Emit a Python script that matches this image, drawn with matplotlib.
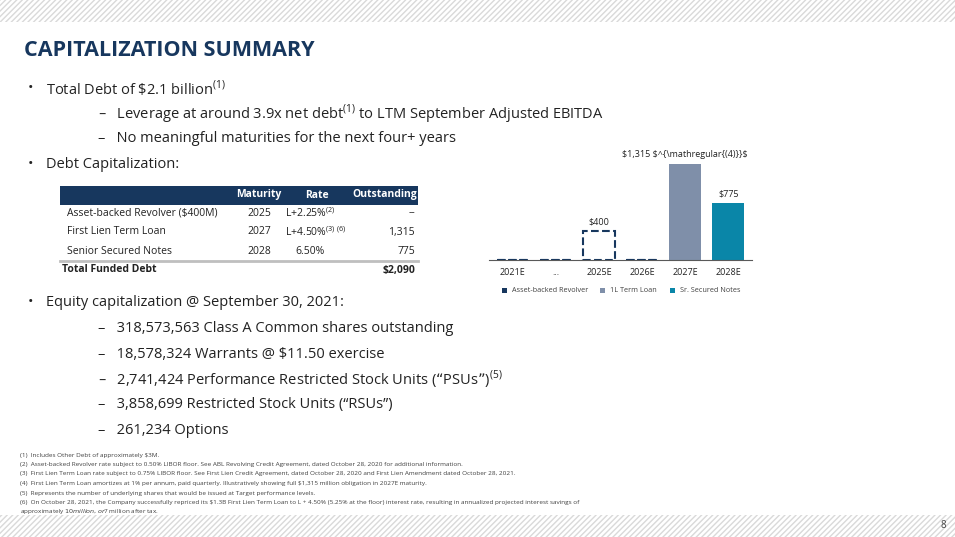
import matplotlib.pyplot as plt
from matplotlib.patches import Rectangle

plt.rcParams['font.family'] = ['Open Sans', 'DejaVu Sans']

W, H = 955, 537
NAVY = '#17375E'
GREY = '#7F8FA9'
TEAL = '#0A86A8'
TXT = '#222222'

# maturity chart data ($M)
years = ['2021E', '...', '2025E', '2026E', '2027E', '2028E']
revolver = [0, 0, 400, 0, 0, 0]
term_loan = [0, 0, 0, 0, 1315, 0]
notes = [0, 0, 0, 0, 0, 775]

# debt table
tbl_names = ['Asset-backed Revolver ($400M)', 'First Lien Term Loan', 'Senior Secured Notes']
tbl_maturity = ['2025', '2027', '2028']
tbl_rate = [r'L+2.25%$^{\mathregular{(2)}}$', r'L+4.50%$^{\mathregular{(3)\ (6)}}$', '6.50%']
tbl_out = ['--', '1,315', '775']

equity = ['318,573,563 Class A Common shares outstanding',
          '18,578,324 Warrants @ $11.50 exercise',
          '2,741,424 Performance Restricted Stock Units (\u201cPSUs\u201d)$^{\\mathregular{(5)}}$',
          '3,858,699 Restricted Stock Units (\u201cRSUs\u201d)',
          '261,234 Options']

footnotes = [
    '(1)  Includes Other Debt of approximately $3M.',
    '(2)  Asset-backed Revolver rate subject to 0.50% LIBOR floor. See ABL Revolving Credit Agreement, dated October 28, 2020 for additional information.',
    '(3)  First Lien Term Loan rate subject to 0.75% LIBOR floor. See First Lien Credit Agreement, dated October 28, 2020 and First Lien Amendment dated October 28, 2021.',
    '(4)  First Lien Term Loan amortizes at 1% per annum, paid quarterly. Illustratively showing full $1,315 million obligation in 2027E maturity.',
    '(5)  Represents the number of underlying shares that would be issued at Target performance levels.',
    '(6)  On October 28, 2021, the Company successfully repriced its $1.3B First Lien Term Loan to L + 4.50% (5.25% at the floor) interest rate, resulting in annualized projected interest savings of',
    'approximately $10 million, or $7 million after tax.',
]

fig = plt.figure(figsize=(W / 100, H / 100), dpi=100)


def t(x, y, s, **kw):
    kw.setdefault('color', TXT)
    kw.setdefault('va', 'center')
    return fig.text(x / W, 1 - y / H, s, **kw)


def box(x, y, w, h, **kw):
    fig.patches.append(Rectangle((x / W, 1 - (y + h) / H), w / W, h / H,
                                 transform=fig.transFigure, **kw))


# striped bands top and bottom
box(0, 0, W, 22, facecolor='white', edgecolor='#D9D9D9', hatch='//////', lw=0)
box(0, 515, W, 22, facecolor='white', edgecolor='#D9D9D9', hatch='//////', lw=0)

t(24, 51, 'CAPITALIZATION SUMMARY', fontsize=15.5, fontweight='bold', color=NAVY)

t(28, 89, '\u2022', fontsize=10.5)
t(46, 89, r'Total Debt of \$2.1 billion$^{\mathregular{(1)}}$', fontsize=10.5)
t(98, 114, r'\u2013   Leverage at around 3.9x net debt$^{\mathregular{(1)}}$ to LTM September Adjusted EBITDA'.replace(r'\u2013', '\u2013'), fontsize=10.5)
t(98, 139, '\u2013   No meaningful maturities for the next four+ years', fontsize=10.5)
t(28, 164, '\u2022', fontsize=10.5)
t(46, 164, 'Debt Capitalization:', fontsize=10.5)

# table
box(60, 186, 358, 19, facecolor=NAVY, lw=0)
t(281, 195, 'Maturity', fontsize=7.5, fontweight='bold', color='white', ha='right')
t(329, 195, 'Rate', fontsize=7.5, fontweight='bold', color='white', ha='right')
t(417, 195, 'Outstanding', fontsize=7.5, fontweight='bold', color='white', ha='right')
for i, name in enumerate(tbl_names):
    y = 213 + 19 * i
    t(67, y, name, fontsize=7.5)
    t(271, y, tbl_maturity[i], fontsize=7.5, ha='right')
    if i < 2:
        t(285, y, tbl_rate[i], fontsize=7.5)
    else:
        t(310, y, tbl_rate[i], fontsize=7.5, ha='center')
    t(415, y, tbl_out[i], fontsize=7.5, ha='right')
fig.add_artist(plt.Line2D([60 / W, 418 / W], [1 - 261 / H] * 2, color='#BFBFBF', lw=2))
t(62, 270, 'Total Funded Debt', fontsize=7.5, fontweight='bold')
t(415, 270, '$2,090', fontsize=7.5, fontweight='bold', ha='right')

t(28, 303, '\u2022', fontsize=10.5)
t(46, 303, 'Equity capitalization @ September 30, 2021:', fontsize=10.5)
for i, line in enumerate(equity):
    t(98, 329 + 25.3 * i, '\u2013   ' + line, fontsize=10.5)

for i, line in enumerate(footnotes):
    t(20 if i < 6 else 20, 455 + 9.5 * i, line, fontsize=4.6, color='#404040')

t(940, 526, '8', fontsize=7, color='#404040')

# maturity bar chart
ax = fig.add_axes([489 / W, 1 - 260 / H, 263 / W, 117 / H])
x = range(len(years))
ax.bar(x, revolver, width=0.75, facecolor='none', edgecolor=NAVY, ls='--', lw=1.5)
ax.bar(x, term_loan, width=0.75, color=GREY)
ax.bar(x, notes, width=0.75, color=TEAL)
ax.set_xlim(-0.55, 5.55)
ax.set_ylim(0, 1600)
ax.set_yticks([])
ax.set_xticks(list(x))
ax.set_xticklabels(years, fontsize=6.5, color=TXT)
ax.tick_params(axis='x', length=0, pad=6)
for s in ['top', 'right', 'left']:
    ax.spines[s].set_visible(False)
ax.spines['bottom'].set_color('#595959')
for i in x:
    v = revolver[i] + term_loan[i] + notes[i]
    if v:
        lab = f'${v:,}'
        if term_loan[i]:
            lab += r' $^{\mathregular{(4)}}$'
        ax.text(i, v + 60, lab, ha='center', va='bottom', fontsize=6.5, color=TXT)

# legend
for lx, c, lab in [(502, NAVY, 'Asset-backed Revolver'), (600, GREY, '1L Term Loan'),
                   (670, TEAL, 'Sr. Secured Notes')]:
    box(lx, 288, 5, 5, facecolor=c, lw=0)
    t(lx + 10, 290.5, lab, fontsize=5.2, color='#404040')

fig.savefig('out.png', dpi=100)
